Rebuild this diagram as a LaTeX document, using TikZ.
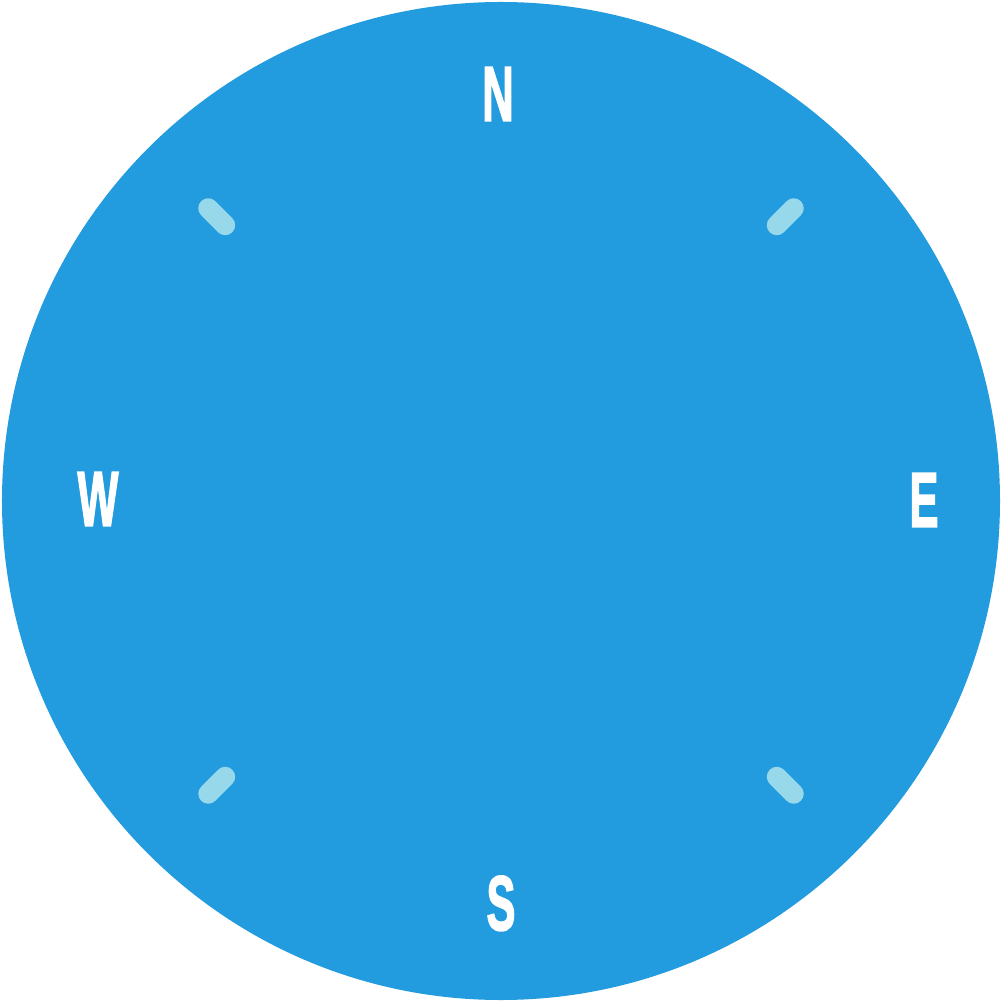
\documentclass[tikz,border=0pt]{standalone}
\usepackage{fontspec}
\setmainfont{Liberation Sans}
\newfontfamily\dialfont{Liberation Sans Bold}[FakeBold=2.5]
\usepackage{xcolor}
\definecolor{cDial}{HTML}{229BDF}
\definecolor{cTick}{HTML}{97D8EA}
\usepackage{tikz}
\tikzset{
  dial-face/.style={fill=cDial,draw=none},
  dial-tick/.style={draw=cTick,line width=2mm,line cap=round},
  dial-letter/.style={text=white,inner sep=0pt,text depth=0pt,
    font=\fontsize{22}{22}\dialfont,xscale=0.56},
}
\begin{document}
\begin{tikzpicture}
  \useasboundingbox (-5.01,-5.01) rectangle (5.01,5.01);
  \fill[dial-face] (0,0) circle (4.99);
  % ticks on the diagonals
  \foreach \a in {45,135,225,315}
    \draw[dial-tick] (\a:3.90) -- (\a:4.14);
  \node[dial-letter] (north) at (-0.03,4.07) {N};
  \node[dial-letter] (east)  at (4.23,0.01)  {E};
  \node[dial-letter] (south) at (0.00,-4.02) {S};
  \node[dial-letter] (west)  at (-4.03,0.02) {W};
\end{tikzpicture}
\end{document}
